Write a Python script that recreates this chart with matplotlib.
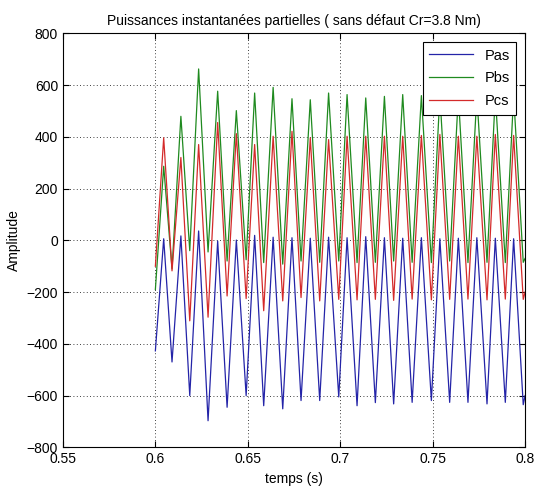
import matplotlib
matplotlib.use("Agg")
from matplotlib import pyplot as plt
import numpy as np

# values (times in s, amplitudes)
tStart = 0.6
tEnd = 0.8
peakTimes = [0.6045, 0.6138, 0.6234, 0.6337, 0.6438, 0.6537, 0.6637, 0.6739, 0.6838, 0.6937,
             0.7037, 0.7138, 0.7239, 0.7338, 0.7439, 0.7539, 0.7639, 0.7739, 0.7839, 0.7938]
troughTimes = [0.6090, 0.6186, 0.6285, 0.6388, 0.6491, 0.6586, 0.6689, 0.6788, 0.6889, 0.6992,
               0.7091, 0.7190, 0.7289, 0.7389, 0.7493, 0.7592, 0.7691, 0.7794, 0.7893, 0.7990]

pasStart, pasEnd = -427, -600
pasPeaks = [6, 17, 36, -3, 1, 19, 12, 10, 8, 12, 10, 14, 10, 8, 10, 6, 8, 10, 8, 6]
pasTroughs = [-470, -600, -697, -645, -600, -639, -651, -619, -619, -605,
              -639, -627, -632, -626, -619, -626, -626, -632, -626, -635]

pbsStart, pbsEnd = -190, -70
pbsPeaks = [286, 479, 662, 576, 501, 569, 591, 547, 543, 569,
            563, 550, 556, 563, 559, 560, 560, 560, 560, 560]
pbsTroughs = [-110, -40, -45, -80, -75, -86, -92, -80, -85, -80,
              -86, -85, -80, -85, -86, -80, -86, -85, -86, -85]

pcsStart, pcsEnd = -100, -200
pcsPeaks = [396, 320, 370, 455, 412, 370, 402, 421, 396, 389,
            402, 402, 402, 402, 405, 409, 402, 402, 409, 405]
pcsTroughs = [-118, -311, -297, -215, -225, -272, -234, -221, -234, -228,
              -230, -228, -232, -227, -230, -228, -227, -230, -227, -228]


def buildSeries(start, peaks, troughs, end):
    t = [tStart]
    v = [start]
    for i in range(len(peaks)):
        t += [peakTimes[i], troughTimes[i]]
        v += [peaks[i], troughs[i]]
    t.append(tEnd)
    v.append(end)
    return np.array(t), np.array(v)


plt.rcParams['font.family'] = ['Liberation Sans', 'DejaVu Sans']
fig = plt.figure(figsize=(5.38, 4.96), dpi=100)
ax = fig.add_axes([0.117, 0.098, 0.859, 0.835])

series = [("Pas", pasStart, pasPeaks, pasTroughs, pasEnd, '#2424a8'),
          ("Pbs", pbsStart, pbsPeaks, pbsTroughs, pbsEnd, '#1f8a1f'),
          ("Pcs", pcsStart, pcsPeaks, pcsTroughs, pcsEnd, '#d42a2a')]
for name, s, p, tr, e, col in series:
    x, y = buildSeries(s, p, tr, e)
    ax.plot(x, y, color=col, linewidth=0.9, label=name)

ax.set_xlim(0.55, 0.8)
ax.set_ylim(-800, 800)
ax.set_xticks(np.arange(0.55, 0.801, 0.05))
ax.set_xticklabels(["0.55", "0.6", "0.65", "0.7", "0.75", "0.8"])
ax.set_yticks(np.arange(-800, 801, 200))
ax.tick_params(direction='in', top=True, right=True, labelsize=10, length=4)
ax.grid(True, linestyle=(0, (1, 3)), color='black', linewidth=0.6)
ax.set_xlabel("temps (s)", fontsize=10)
ax.set_ylabel("Amplitude", fontsize=10)
ax.set_title("Puissances instantanées partielles ( sans défaut Cr=3.8 Nm)", fontsize=10)

leg = ax.legend(loc='upper right', fancybox=False, framealpha=1, edgecolor='black',
                fontsize=10.5, handlelength=3.0, borderaxespad=0.6, labelspacing=0.6,
                borderpad=0.45)
leg.get_frame().set_linewidth(0.8)

fig.savefig("out.png", dpi=100)
